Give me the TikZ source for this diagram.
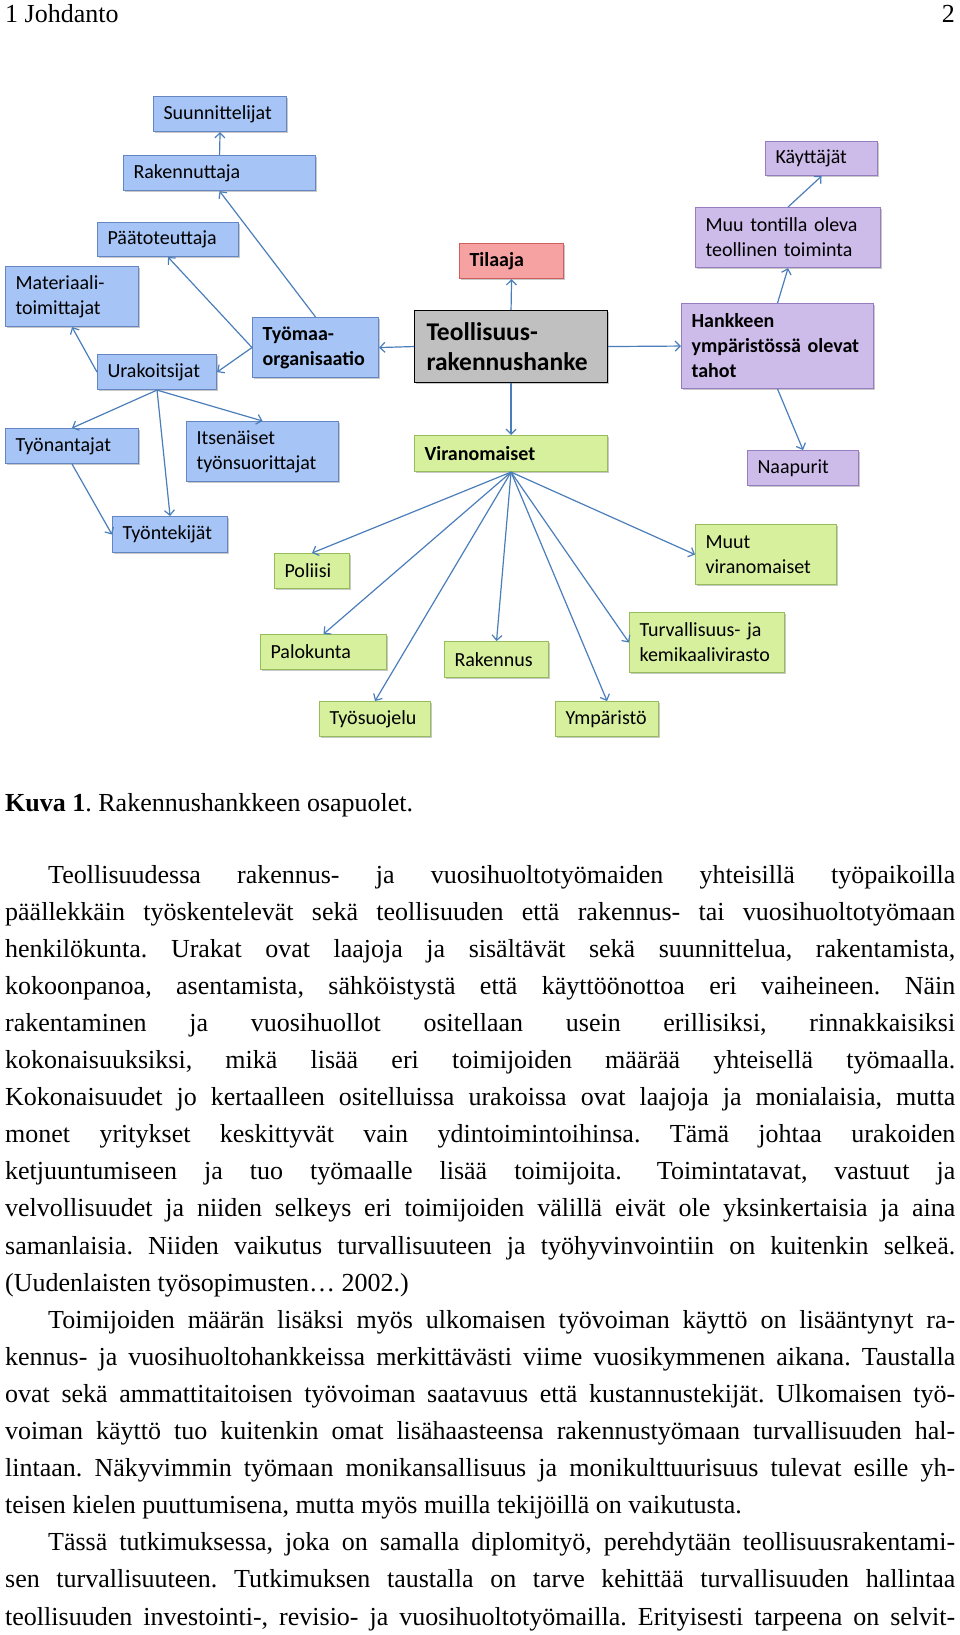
\documentclass[tikz,border=0pt]{standalone}
\usepackage{fontspec}
\setmainfont{Liberation Serif}
\newfontfamily\boxfont{Carlito}
\usetikzlibrary{arrows.meta,shadows}
\definecolor{cblue}{RGB}{166,196,245}
\definecolor{cblueline}{RGB}{100,135,195}
\definecolor{cgreen}{RGB}{215,240,158}
\definecolor{cgreenline}{RGB}{150,188,92}
\definecolor{cpurple}{RGB}{205,187,234}
\definecolor{cpurpleline}{RGB}{150,125,192}
\definecolor{cpink}{RGB}{246,162,162}
\definecolor{cpinkline}{RGB}{205,95,95}
\definecolor{cgray}{RGB}{192,192,192}
\definecolor{carrow}{RGB}{74,126,187}
\newcommand\jline[3]{\node[bodyline] (#1) at (5,#2) {\makebox[950pt][s]{#3}};}
\hyphenpenalty=10000
\exhyphenpenalty=10000
\begin{document}
\begin{tikzpicture}[x=1pt,y=-1pt,
  bx/.style={draw, line width=1.1pt, inner xsep=10pt, inner ysep=0pt, anchor=north west, align=left,
    font=\boxfont\fontsize{20}{25}\selectfont,
    drop shadow={shadow xshift=1.6pt,shadow yshift=-1.6pt,opacity=.3,fill=black!70}},
  blu/.style={bx, fill=cblue, draw=cblueline},
  grn/.style={bx, fill=cgreen, draw=cgreenline},
  pur/.style={bx, fill=cpurple, draw=cpurpleline},
  pnk/.style={bx, fill=cpink, draw=cpinkline},
  gry/.style={bx, fill=cgray, draw=black, inner xsep=12pt,
    font=\boxfont\bfseries\fontsize{25.5}{30}\selectfont},
  bld/.style={font=\boxfont\bfseries\fontsize{20}{25}\selectfont},
  arr/.style={draw=carrow, line width=1.2pt, -{Straight Barb[length=5pt,width=10pt,line width=1.2pt]}},
  bodyline/.style={anchor=base west, inner sep=0pt, font=\fontsize{26}{30}\selectfont\frenchspacing},
]
\useasboundingbox (0,0) rectangle (960,1635);
\fill[white] (0,0) rectangle (960,1635);

% header
\node[bodyline] (hdl) at (5,23) {1 Johdanto};
\node[bodyline, anchor=base east] (hdr) at (955,23) {2};

% blue boxes
\node[blu, text width=113pt, minimum height=35pt] (sun) at (153,96) {Suunnittelijat};
\node[blu, text width=172pt, minimum height=35pt] (rak) at (123,155) {Rakennuttaja};
\node[blu, text width=121pt, minimum height=34pt] (paa) at (97,222) {Päätoteuttaja};
\node[blu, text width=113pt, minimum height=60pt] (mat) at (5,266) {Materiaali-\\toimittajat};
\node[blu, text width=99pt, minimum height=35pt] (ura) at (97,354) {Urakoitsijat};
\node[blu, bld, text width=106pt, minimum height=60pt] (tyo) at (252,317) {Työmaa-\\organisaatio};
\node[blu, text width=113pt, minimum height=35pt] (tya) at (5,428) {Työnantajat};
\node[blu, text width=132pt, minimum height=60pt] (its) at (186,421) {Itsenäiset\\työnsuorittajat};
\node[blu, text width=95pt, minimum height=36pt] (tyt) at (112,516) {Työntekijät};

% centre
\node[pnk, bld, text width=84pt, minimum height=35pt] (til) at (459,243) {Tilaaja};
\node[gry, text width=169pt, minimum height=72pt] (teo) at (414,310) {Teollisuus-\\rakennushanke};

% purple boxes
\node[pur, text width=92pt, minimum height=34pt] (kay) at (765,141) {Käyttäjät};
\node[pur, text width=165pt, minimum height=60pt] (muu) at (695,207) {Muu tontilla oleva\\teollinen toiminta};
\node[pur, bld, text width=172pt, minimum height=85pt] (han) at (681,303) {Hankkeen\\ympäristössä olevat\\tahot};
\node[pur, text width=91pt, minimum height=35pt] (naa) at (747,450) {Naapurit};

% green boxes
\node[grn, bld, text width=173pt, minimum height=36pt] (vir) at (414,435) {Viranomaiset};
\node[grn, text width=55pt, minimum height=35pt] (pol) at (274,553) {Poliisi};
\node[grn, text width=106pt, minimum height=35pt] (pal) at (260,634) {Palokunta};
\node[grn, text width=84pt, minimum height=36pt] (ras) at (444,641) {Rakennus};
\node[grn, text width=91pt, minimum height=35pt] (tys) at (319,701) {Työsuojelu};
\node[grn, text width=121pt, minimum height=60pt] (mvi) at (695,524) {Muut\\viranomaiset};
\node[grn, text width=135pt, minimum height=60pt] (tur) at (629,612) {Turvallisuus- ja\\kemikaalivirasto};
\node[grn, text width=83pt, minimum height=35pt] (ymp) at (555,701) {Ympäristö};

% connectors
\draw[arr] (rak.north) -- (sun.south);
\draw[arr] (tyo.north) -- (rak.south);
\draw[arr] (tyo.west) -- (paa.south);
\draw[arr] (tyo.west) -- (ura.east);
\draw[arr] (ura.west) -- (mat.south);
\draw[arr] (ura.south) -- (tya.north);
\draw[arr] (ura.south) -- (tyt.north);
\draw[arr] (ura.south) -- (its.north);
\draw[arr] (tya.south) -- (tyt.west);
\draw[arr] (teo.west) -- (tyo.east);
\draw[arr] (teo.north) -- (til.south);
\draw[arr] (teo.east) -- (han.west);
\draw[arr] (teo.south) -- (vir.north);
\draw[arr] (han.north) -- (muu.south);
\draw[arr] (muu.north) -- (kay.south);
\draw[arr] (han.south) -- (naa.north);
\draw[arr] (vir.south) -- (pol.north);
\draw[arr] (vir.south) -- (pal.north);
\draw[arr] (vir.south) -- (tys.north);
\draw[arr] (vir.south) -- (ras.north);
\draw[arr] (vir.south) -- (ymp.north);
\draw[arr] (vir.south) -- (tur.west);
\draw[arr] (vir.south) -- (mvi.west);

% caption
\node[bodyline] (cap) at (5,811) {\textbf{Kuva 1}. Rakennushankkeen osapuolet.};

% body text
\jline{l1}{883}{\hspace*{43pt}Teollisuudessa rakennus- ja vuosihuoltotyömaiden yhteisillä työpaikoilla}
\jline{l2}{920.1}{päällekkäin työskentelevät sekä teollisuuden että rakennus- tai vuosihuoltotyömaan}
\jline{l3}{957.2}{henkilökunta. Urakat ovat laajoja ja sisältävät sekä suunnittelua, rakentamista,}
\jline{l4}{994.3}{kokoonpanoa, asentamista, sähköistystä että käyttöönottoa eri vaiheineen. Näin}
\jline{l5}{1031.4}{rakentaminen ja vuosihuollot ositellaan usein erillisiksi, rinnakkaisiksi}
\jline{l6}{1068.5}{kokonaisuuksiksi, mikä lisää eri toimijoiden määrää yhteisellä työmaalla.}
\jline{l7}{1105.6}{Kokonaisuudet jo kertaalleen ositelluissa urakoissa ovat laajoja ja monialaisia, mutta}
\jline{l8}{1142.7}{monet yritykset keskittyvät vain ydintoimintoihinsa. Tämä johtaa urakoiden}
\jline{l9}{1179.8}{ketjuuntumiseen ja tuo työmaalle lisää toimijoita.\hspace{8pt} Toimintatavat, vastuut ja}
\jline{l10}{1216.9}{velvollisuudet ja niiden selkeys eri toimijoiden välillä eivät ole yksinkertaisia ja aina}
\jline{l11}{1254}{samanlaisia. Niiden vaikutus turvallisuuteen ja työhyvinvointiin on kuitenkin selkeä.}
\node[bodyline] (l12) at (5,1291.1) {(Uudenlaisten työsopimusten… 2002.)};
\jline{l13}{1328.2}{\hspace*{43pt}Toimijoiden määrän lisäksi myös ulkomaisen työvoiman käyttö on lisääntynyt ra-}
\jline{l14}{1365.3}{kennus- ja vuosihuoltohankkeissa merkittävästi viime vuosikymmenen aikana. Taustalla}
\jline{l15}{1402.4}{ovat sekä ammattitaitoisen työvoiman saatavuus että kustannustekijät. Ulkomaisen työ-}
\jline{l16}{1439.5}{voiman käyttö tuo kuitenkin omat lisähaasteensa rakennustyömaan turvallisuuden hal-}
\jline{l17}{1476.6}{lintaan. Näkyvimmin työmaan monikansallisuus ja monikulttuurisuus tulevat esille yh-}
\node[bodyline] (l18) at (5,1513.7) {teisen kielen puuttumisena, mutta myös muilla tekijöillä on vaikutusta.};
\jline{l19}{1550.8}{\hspace*{43pt}Tässä tutkimuksessa, joka on samalla diplomityö, perehdytään teollisuusrakentami-}
\jline{l20}{1587.9}{sen turvallisuuteen. Tutkimuksen taustalla on tarve kehittää turvallisuuden hallintaa}
\jline{l21}{1625}{teollisuuden investointi-, revisio- ja vuosihuoltotyömailla. Erityisesti tarpeena on selvit-}
\end{tikzpicture}
\end{document}
